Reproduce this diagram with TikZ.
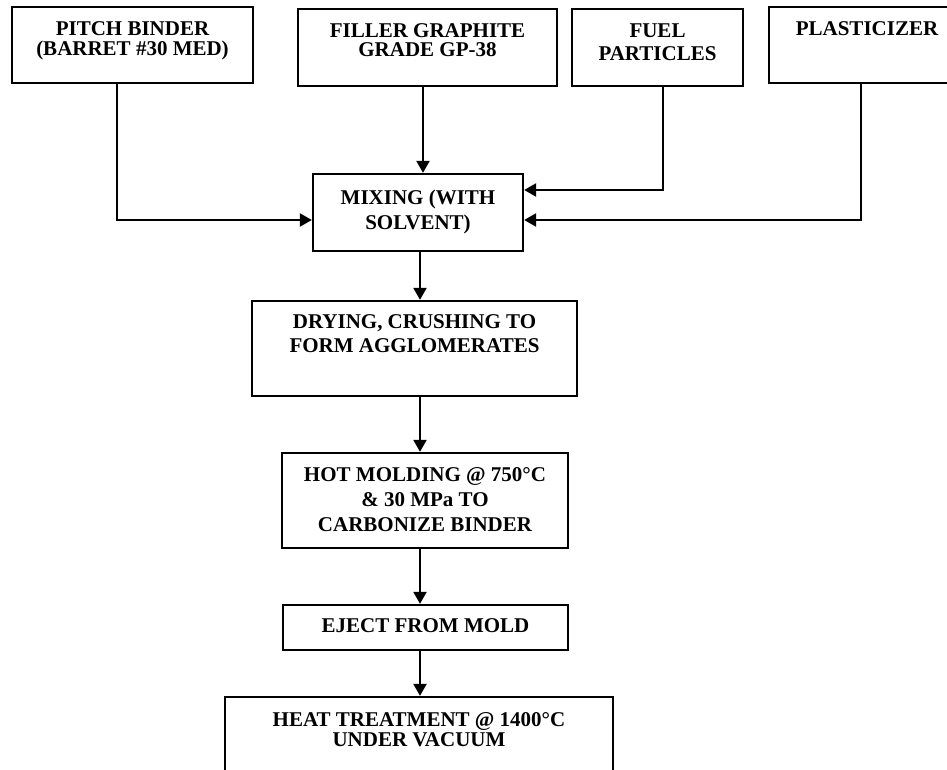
\documentclass[tikz,border=0pt]{standalone}
\usepackage{fontspec}
\setmainfont{Liberation Serif}
\usetikzlibrary{arrows.meta}
\begin{document}
\begin{tikzpicture}[x=1pt,y=-1pt,
  box/.style={draw, line width=2.3pt, rectangle, inner sep=0pt},
  txt/.style={anchor=north, inner sep=0pt, align=center, font=\bfseries\fontsize{21pt}{#1}\selectfont},
  txt/.default=24pt,
  arr/.style={line width=2.3pt, -{Triangle[length=12pt,width=13pt]}}]
\useasboundingbox (0,0) rectangle (947,770);
\clip (0,0) rectangle (947,770);
% input boxes
\node[box, minimum width=241pt, minimum height=76pt] (pitch) at (132.5,45) {};
\node[txt=20pt] (pitcht) at ([yshift=-16pt]pitch.north) {PITCH BINDER\\(BARRET \#30 MED)};
\node[box, minimum width=259pt, minimum height=77pt] (fil) at (427.5,47.5) {};
\node[txt=19pt] (filt) at ([yshift=-16pt]fil.north) {FILLER GRAPHITE\\GRADE GP-38};
\node[box, minimum width=171pt, minimum height=77pt] (fuel) at (657.5,47.5) {};
\node[txt=23pt] (fuelt) at ([yshift=-16pt]fuel.north) {FUEL\\PARTICLES};
\node[box, minimum width=196pt, minimum height=76pt] (plast) at (867,45) {};
\node[txt] (plastt) at ([yshift=-16pt]plast.north) {PLASTICIZER};
% process boxes
\node[box, minimum width=210pt, minimum height=77pt] (mix) at (418,212.5) {};
\node[txt=25pt] (mixt) at ([yshift=-17pt]mix.north) {MIXING (WITH\\SOLVENT)};
\node[box, minimum width=325pt, minimum height=95pt] (dry) at (414.5,348.5) {};
\node[txt=24pt] (dryt) at ([yshift=-15pt]dry.north) {DRYING, CRUSHING TO\\FORM AGGLOMERATES};
\node[box, minimum width=286pt, minimum height=95pt] (hot) at (425,500.5) {};
\node[txt=25pt] (hott) at ([yshift=-15pt]hot.north) {HOT MOLDING @ 750°C\\\& 30 MPa TO\\CARBONIZE BINDER};
\node[box, minimum width=285pt, minimum height=45pt] (ej) at (425.5,627.5) {};
\node[txt] (ejt) at ([yshift=-15pt]ej.north) {EJECT FROM MOLD};
\node[box, minimum width=388pt, minimum height=100pt] (heat) at (419,747) {};
\node[txt=20pt] (heatt) at ([yshift=-16pt]heat.north) {HEAT TREATMENT @ 1400°C\\UNDER VACUUM};
% connectors
\coordinate (spine) at (420,0);
\coordinate (fx) at (423,0);
\coordinate (px) at (117,220);
\coordinate (ux) at (663,190);
\coordinate (lx) at (861,220);
\draw[arr] (fx |- fil.south) -- (fx |- mix.north);
\draw[arr] (px |- pitch.south) |- (mix.west |- px);
\draw[arr] (ux |- fuel.south) |- (mix.east |- ux);
\draw[arr] (lx |- plast.south) |- (mix.east |- lx);
\draw[arr] (spine |- mix.south) -- (spine |- dry.north);
\draw[arr] (spine |- dry.south) -- (spine |- hot.north);
\draw[arr] (spine |- hot.south) -- (spine |- ej.north);
\draw[arr] (spine |- ej.south) -- (spine |- heat.north);
\end{tikzpicture}
\end{document}
